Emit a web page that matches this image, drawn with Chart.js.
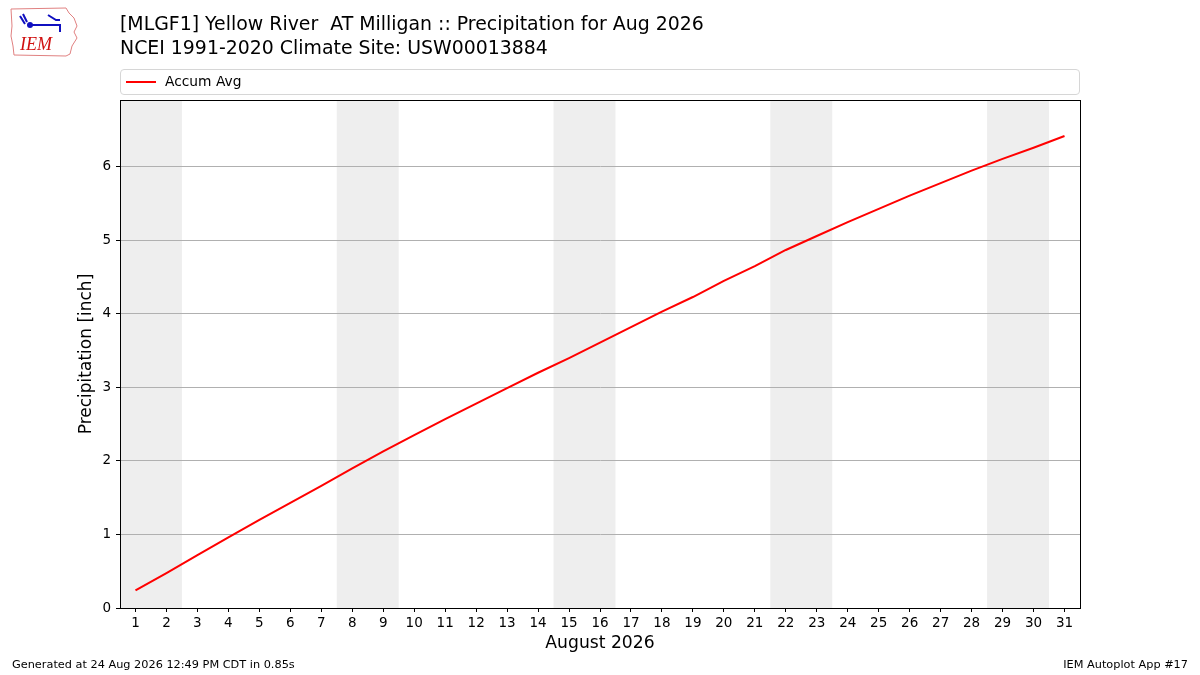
<!DOCTYPE html>
<html>
<head>
<meta charset="utf-8">
<script src="https://cdn.jsdelivr.net/npm/chart.js@4/dist/chart.umd.min.js"></script>
<style>
  html, body { margin: 0; padding: 0; background: #fff; }
  #wrap { position: relative; width: 1200px; height: 675px; font-family: "DejaVu Sans", sans-serif; color: #000; }
  #wrap canvas { position: absolute; left: 0; top: 0; }
  .title { position: absolute; left: 120px; font-size: 18.9px; white-space: pre; }
  #legend { position: absolute; left: 120px; top: 69px; width: 960px; height: 26px; border: 1px solid #d6d6d6; border-radius: 4px; box-sizing: border-box; }
  #legend .swatch { position: absolute; left: 5px; top: 11px; width: 30px; height: 2px; background: #ff0000; }
  #legend .lbl { position: absolute; left: 44px; top: 3px; font-size: 13.8px; }
  .foot { position: absolute; top: 658px; font-size: 11.3px; white-space: pre; }
  #logo { position: absolute; left: 8px; top: 6px; }
</style>
</head>
<body>
<div id="wrap">
  <canvas id="precipChart" width="1200" height="675"></canvas>
  <svg id="logo" width="72" height="52" viewBox="0 0 72 52">
    <path d="M3 3 L58 2 L61 7 L66 12 L69 20 L66 26 L69 32 L64 40 L62 48 L58 50 L6 49 L5 40 L3 30 L4 20 Z" fill="none" stroke="#e08080" stroke-width="1"/>
    <path d="M15 8 L19 16 M12 10 L17 18 M22 19 L52 19 L52 26 M40 9 L48 14 L52 14" stroke="#1010c0" stroke-width="2" fill="none"/>
    <circle cx="22" cy="19" r="3" fill="#1010c0"/>
    <text x="12" y="44" font-family="Liberation Serif, serif" font-style="italic" font-size="18" fill="#d01010">IEM</text>
  </svg>
  <div class="title" style="top:12px">[MLGF1] Yellow River  AT Milligan :: Precipitation for Aug 2026</div>
  <div class="title" style="top:36px">NCEI 1991-2020 Climate Site: USW00013884</div>
  <div id="legend"><div class="swatch"></div><div class="lbl">Accum Avg</div></div>
  <div class="foot" style="left:12px">Generated at 24 Aug 2026 12:49 PM CDT in 0.85s</div>
  <div class="foot" style="right:12px">IEM Autoplot App #17</div>
</div>
<script>
// day of month for August 2026
var days = [1, 2, 3, 4, 5, 6, 7, 8, 9, 10, 11, 12, 13, 14, 15, 16,
            17, 18, 19, 20, 21, 22, 23, 24, 25, 26, 27, 28, 29, 30, 31];

// accumulated average precipitation [inch]
var accumAvg = [0.24, 0.475, 0.72, 0.96, 1.20, 1.43, 1.66, 1.90, 2.13, 2.35,
                2.57, 2.78, 2.99, 3.20, 3.40, 3.61, 3.82, 4.03, 4.23, 4.45,
                4.65, 4.87, 5.06, 5.25, 5.43, 5.61, 5.78, 5.95, 6.11, 6.26, 6.42];

// weekends (sat-sun) shaded
var weekends = [[0.5, 2.5], [7.5, 9.5], [14.5, 16.5], [21.5, 23.5], [28.5, 30.5]];

var yTicks = [0, 1, 2, 3, 4, 5, 6];

var font = "'DejaVu Sans', sans-serif";

/** weekend shading, drawn under the grid **/
var shadePlugin = {
    id: 'shade',
    beforeDraw: function (chart) {
        var ctx = chart.ctx, a = chart.chartArea, x = chart.scales.x;
        ctx.save();
        ctx.fillStyle = '#eeeeee';
        weekends.forEach(function (w) {
            var x0 = x.getPixelForValue(w[0]), x1 = x.getPixelForValue(w[1]);
            ctx.fillRect(x0, a.top, x1 - x0, a.bottom - a.top);
        });
        ctx.restore();
    },
    afterDatasetsDraw: function (chart) {
        var ctx = chart.ctx, a = chart.chartArea;
        ctx.save();
        ctx.strokeStyle = '#000';
        ctx.lineWidth = 1;
        ctx.strokeRect(Math.round(a.left) + 0.5, Math.round(a.top) + 0.5,
                       Math.round(a.right - a.left), Math.round(a.bottom - a.top));
        ctx.restore();
    }
};

var ctx = document.getElementById('precipChart').getContext('2d');
new Chart(ctx, {
    type: 'line',
    data: {
        datasets: [{
            label: 'Accum Avg',
            data: days.map(function (d, i) { return {x: d, y: accumAvg[i]}; }),
            borderColor: '#ff0000',
            borderWidth: 2,
            pointRadius: 0,
            tension: 0,
            clip: false
        }]
    },
    options: {
        responsive: false,
        animation: false,
        layout: {padding: {left: 72, right: 120, top: 100, bottom: 17}},
        plugins: {legend: {display: false}, tooltip: {enabled: false}},
        scales: {
            x: {
                type: 'linear',
                min: 0.5,
                max: 31.5,
                afterFit: function (s) { s.height = 50; },
                afterBuildTicks: function (s) { s.ticks = days.map(function (d) { return {value: d}; }); },
                grid: {drawOnChartArea: false, tickLength: 4, tickColor: '#000'},
                border: {display: true, color: '#000'},
                ticks: {color: '#000', font: {family: font, size: 13.5}, padding: 3, maxRotation: 0, autoSkip: false},
                title: {display: true, text: 'August 2026', color: '#000', font: {family: font, size: 17.2}, padding: 4}
            },
            y: {
                min: 0,
                max: 6.91,
                afterFit: function (s) { s.width = 48; },
                afterBuildTicks: function (s) { s.ticks = yTicks.map(function (v) { return {value: v}; }); },
                grid: {color: '#b0b0b0', lineWidth: 1, tickLength: 4, tickColor: '#000'},
                border: {display: true, color: '#000'},
                ticks: {color: '#000', font: {family: font, size: 13.5}, padding: 5},
                title: {display: true, text: 'Precipitation [inch]', color: '#000', font: {family: font, size: 17}, padding: 4}
            }
        }
    },
    plugins: [shadePlugin]
});
</script>
</body>
</html>
